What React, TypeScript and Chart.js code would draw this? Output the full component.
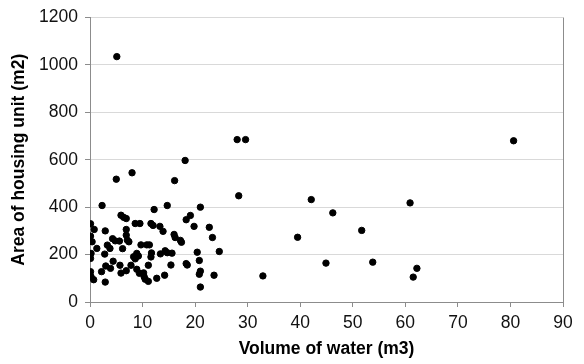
import React, { useEffect, useRef } from "react";
import { Chart, registerables } from "chart.js";

Chart.register(...registerables);

// Volume of water (m3) for each housing unit
const volume = [
  0.1, 0.8, 0.1, 0.4, 1.3, 0.2, 0.1, 0.1, 0.2, 0.7,
  2.3, 2.9, 2.8, 3.3, 3.8, 2.2, 3.0, 3.9, 4.4, 2.9,
  4.3, 4.8, 5.6, 5.0, 5.1, 5.9, 6.4, 6.9, 6.9, 6.9,
  7.1, 7.4, 6.2, 5.7, 6.9, 5.9, 7.8, 8.0, 8.6, 9.5,
  8.9, 8.3, 8.6, 9.2, 8.9, 9.4, 9.7, 10.8, 11.3, 10.2,
  10.3, 10.5, 11.1, 11.1, 11.6, 12.0, 12.2, 11.7, 11.6, 12.7,
  13.3, 13.9, 13.4, 14.3, 14.7, 15.6, 14.2, 15.4, 14.7, 16.1,
  16.0, 16.2, 17.2, 17.4, 18.3, 18.5, 18.1, 18.3, 19.1, 19.8,
  20.4, 20.8, 21.0, 20.8, 21.0, 21.0, 22.7, 23.3, 24.6, 23.6,
  28.0, 29.6, 28.3, 32.9, 39.5, 42.1, 44.9, 46.2, 51.7, 53.8,
  60.9, 61.5, 62.2, 80.6,
];

// Area of housing unit (m2)
const area = [
  330, 306, 278, 254, 226, 205, 184, 128, 107, 94,
  407, 300, 202, 240, 226, 128, 152, 142, 172, 84,
  267, 258, 257, 518, 1035, 366, 357, 352, 306, 282,
  261, 254, 225, 155, 132, 122, 155, 545, 331, 331,
  205, 191, 182, 194, 138, 121, 241, 241, 241, 123,
  107, 96, 87, 155, 331, 323, 390, 207, 190, 100,
  319, 298, 203, 216, 208, 206, 113, 156, 407, 512,
  285, 272, 260, 252, 162, 156, 597, 347, 365, 319,
  210, 175, 130, 117, 63, 400, 315, 272, 213, 113,
  685, 685, 448, 110, 273, 432, 164, 376, 302, 168,
  418, 105, 142, 680,
];

const xTitle = "Volume of water (m3)";
const yTitle = "Area of housing unit (m2)";
const xMin = 0, xMax = 90, xStep = 10;
const yMin = 0, yMax = 1200, yStep = 200;

const FONT = "'Liberation Sans', Arial, sans-serif";

const rightBorder = {
  id: "rightBorder",
  afterDraw(chart: any) {
    const { ctx, chartArea } = chart;
    ctx.save();
    ctx.strokeStyle = "#8c8c8c";
    ctx.lineWidth = 1;
    ctx.beginPath();
    ctx.moveTo(Math.round(chartArea.right) + 0.5, chartArea.top);
    ctx.lineTo(Math.round(chartArea.right) + 0.5, chartArea.bottom);
    ctx.stroke();
    ctx.restore();
  },
};

export default function App() {
  const ref = useRef<HTMLCanvasElement>(null);

  useEffect(() => {
    if (!ref.current) return;
    const points = volume.map((v, i) => ({ x: v, y: area[i] }));
    const chart = new Chart(ref.current, {
      type: "scatter",
      data: {
        datasets: [
          {
            data: points,
            backgroundColor: "#000",
            borderColor: "#000",
            pointRadius: 3.2,
            pointHoverRadius: 3.2,
          },
        ],
      },
      options: {
        responsive: false,
        animation: false,
        layout: { padding: { left: 0, right: 21, top: 17, bottom: 0 } },
        plugins: { legend: { display: false }, tooltip: { enabled: false } },
        scales: {
          x: {
            type: "linear",
            min: xMin,
            max: xMax,
            ticks: {
              stepSize: xStep,
              color: "#111",
              font: { family: FONT, size: 17.5 },
              padding: 6,
              maxRotation: 0,
              callback: (v: any) => String(v),
            },
            grid: {
              drawOnChartArea: false,
              drawTicks: true,
              tickLength: 5,
              tickColor: "#8c8c8c",
            },
            border: { color: "#8c8c8c" },
            title: {
              display: true,
              text: xTitle,
              color: "#000",
              font: { family: FONT, size: 17.5, weight: "bold" },
              padding: { top: 0, bottom: 4 },
            },
            afterFit: (s: any) => {
              s.height = 62;
            },
          },
          y: {
            type: "linear",
            min: yMin,
            max: yMax,
            ticks: {
              stepSize: yStep,
              color: "#111",
              font: { family: FONT, size: 17.5 },
              padding: 7,
              callback: (v: any) => String(v),
            },
            grid: {
              color: "#d9d9d9",
              tickColor: "#8c8c8c",
              tickLength: 5,
            },
            border: { color: "#8c8c8c" },
            title: {
              display: true,
              text: yTitle,
              color: "#000",
              font: { family: FONT, size: 17.5, weight: "bold" },
              padding: { top: 9, bottom: 0 },
            },
            afterFit: (s: any) => {
              s.width = 90;
            },
          },
        },
      },
      plugins: [rightBorder],
    });
    return () => chart.destroy();
  }, []);

  return (
    <div style={{ position: "absolute", left: 0, top: 0, width: 584, height: 364, background: "#fff" }}>
      <canvas ref={ref} width={584} height={364} />
    </div>
  );
}
